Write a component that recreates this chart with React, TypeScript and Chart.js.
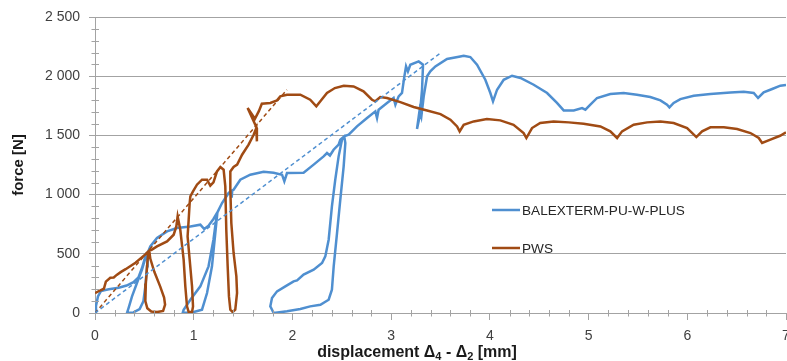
import React, { useEffect, useRef } from "react";
import { Chart, registerables } from "chart.js";

Chart.register(...registerables);

// ---- data ----
const seriesNames = ["BALEXTERM-PU-W-PLUS", "PWS"];

const balX = [
  0, 0.01, 0.03, 0.06, 0.14, 0.24, 0.32, 0.39, 0.44, 0.476, 0.51, 0.527,
  0.476, 0.425, 0.375, 0.34, 0.324,
  0.39, 0.452, 0.49, 0.51, 0.527, 0.533,
  0.56, 0.628, 0.73, 0.83, 0.966, 1.067, 1.107, 1.15, 1.2, 1.236,
  1.2, 1.15, 1.067, 0.966, 0.898, 0.89,
  0.93, 1.0, 1.084, 1.135, 1.185, 1.219, 1.24,
  1.287, 1.354, 1.38, 1.385, 1.39, 1.404, 1.472, 1.573, 1.708, 1.81, 1.895, 1.918, 1.945,
  2.113, 2.215, 2.316, 2.35, 2.38, 2.417, 2.468, 2.485, 2.525,
  2.536, 2.519, 2.485, 2.452, 2.418, 2.4, 2.367, 2.283, 2.18, 2.08, 1.945, 1.81, 1.776,
  1.793, 1.844, 1.928, 2.012, 2.047, 2.113, 2.215, 2.3, 2.333, 2.367, 2.4, 2.434, 2.468, 2.502, 2.53,
  2.57, 2.654, 2.756, 2.84, 2.857, 2.873, 2.958, 3.025, 3.043, 3.076, 3.11, 3.134, 3.151, 3.17,
  3.194, 3.279, 3.323, 3.313, 3.289, 3.262, 3.289, 3.306, 3.33, 3.364, 3.397, 3.448, 3.566,
  3.7, 3.735, 3.802, 3.87, 3.954, 4.005, 4.032, 4.073, 4.14, 4.225, 4.31, 4.444, 4.58, 4.68,
  4.748, 4.85, 4.934, 4.968, 5.018, 5.086, 5.22, 5.356, 5.49, 5.625, 5.728, 5.795, 5.819,
  5.862, 5.93, 6.065, 6.234, 6.437, 6.572, 6.673, 6.717, 6.774, 6.86, 6.943, 7.0,
];
const balY = [
  0, 60, 140, 185, 200, 213, 232, 260, 300, 380, 478, 512,
  366, 253, 140, 42, 0,
  5, 34, 98, 225, 394, 507,
  562, 633, 689, 718, 731, 746, 709, 737, 794, 845,
  619, 394, 225, 112, 28, 5,
  2, 8, 28, 169, 394, 676, 850,
  929, 1014, 1030, 975, 1035, 1041, 1126, 1168, 1192, 1185, 1168, 1112, 1182,
  1185, 1253, 1323, 1351, 1330, 1379, 1422, 1464, 1492,
  1436, 1238, 957, 676, 394, 197, 112, 70, 56, 34, 14, 0, 56,
  127, 183, 225, 267, 275, 324, 366, 422, 478, 619, 900, 1126, 1323, 1464, 1495,
  1506, 1576, 1647, 1703, 1647, 1717, 1774, 1816, 1759, 1830, 1858, 1999, 2083, 2041,
  2097, 2125, 2097, 1886, 1661, 1554, 1717, 1661, 1830, 1999, 2041, 2083, 2145,
  2167, 2173, 2162, 2097, 1970, 1858, 1788, 1886, 1970, 2004, 1985, 1928, 1858, 1774,
  1711, 1711, 1731, 1717, 1759, 1816, 1850, 1858, 1844, 1824, 1796, 1759, 1737,
  1774, 1807, 1835, 1850, 1863, 1869, 1858, 1816, 1863, 1892, 1920, 1926,
];

const pwsX = [
  0, 0.05, 0.09, 0.11, 0.155, 0.19, 0.22, 0.26, 0.31, 0.41, 0.51, 0.54,
  0.53, 0.515, 0.51, 0.53, 0.57, 0.63, 0.69, 0.71, 0.7, 0.66, 0.6, 0.56, 0.55,
  0.577, 0.628, 0.73, 0.797, 0.824, 0.837,
  0.864, 0.898, 0.915, 0.932, 0.949, 0.983, 0.993, 0.983, 0.959, 0.938, 0.949, 0.959, 0.966,
  0.993, 1.033, 1.084, 1.135, 1.168, 1.2, 1.236, 1.27,
  1.303, 1.32, 1.33, 1.344, 1.357, 1.371, 1.394, 1.421, 1.439, 1.432, 1.404, 1.381, 1.371, 1.371, 1.404,
  1.44, 1.49, 1.556, 1.607, 1.634, 1.64, 1.64, 1.546, 1.62, 1.66, 1.69, 1.776, 1.844, 1.877, 1.945,
  2.08, 2.18, 2.242, 2.283, 2.35, 2.43, 2.52, 2.62, 2.72, 2.806, 2.84, 2.89, 2.958,
  3.093, 3.228, 3.364, 3.5, 3.6, 3.668, 3.694, 3.735, 3.836, 3.97, 4.106, 4.24, 4.342, 4.37,
  4.427, 4.51, 4.646, 4.8, 4.95, 5.12, 5.22, 5.289, 5.339, 5.457, 5.593, 5.728, 5.862, 5.998,
  6.092, 6.15, 6.234, 6.37, 6.505, 6.64, 6.724, 6.758, 6.842, 6.94, 7.0,
];
const pwsY = [
  168, 190, 205, 265, 298, 300, 322, 345, 370, 425, 495, 520,
  420, 250, 100, 40, 12, 8, 18, 70, 130, 225, 350, 460, 525,
  535, 562, 605, 661, 731, 815,
  703, 450, 225, 56, 8, 8, 56, 225, 450, 647, 788, 929, 985,
  1027, 1084, 1126, 1126, 1075, 1103, 1196, 1233,
  1210, 1069, 703, 394, 140, 28, 8, 28, 169, 309, 507, 760, 1041, 1196, 1233,
  1253, 1337, 1422, 1506, 1562, 1450, 1560, 1731, 1640, 1705, 1768, 1774, 1796, 1830, 1844,
  1844, 1801, 1745, 1788, 1858, 1900, 1920, 1914, 1872, 1801, 1788, 1824, 1816,
  1781, 1740, 1710, 1680, 1633, 1576, 1534, 1590, 1618, 1638, 1627, 1590, 1520, 1478,
  1562, 1605, 1618, 1610, 1599, 1576, 1534, 1478, 1534, 1590, 1610, 1618, 1605, 1562,
  1486, 1534, 1568, 1568, 1554, 1520, 1478, 1436, 1464, 1497, 1525,
];

const balTrendX = [0, 3.5];
const balTrendY = [0, 2196];
const pwsTrendX = [0, 1.945];
const pwsTrendY = [0, 1886];

const xTicks = [0, 1, 2, 3, 4, 5, 6, 7];
const yTicks = [0, 500, 1000, 1500, 2000, 2500];

const BLUE = "#4f8fd0";
const BROWN = "#a04b14";
const GRID = "#a3a3a3";
const TEXT = "#404040";
const FONT = "'Liberation Sans', Arial, sans-serif";

const toPts = (xs: number[], ys: number[]) => xs.map((x, i) => ({ x, y: ys[i] }));
const fmt = (v: number) =>
  v >= 1000 ? `${Math.floor(v / 1000)} ${String(v % 1000).padStart(3, "0")}` : String(v);

const decor = {
  id: "decor",
  afterDraw(chart: any) {
    const { ctx, chartArea, scales } = chart;
    const xs = scales.x;
    const ys = scales.y;
    ctx.save();
    ctx.strokeStyle = GRID;
    ctx.lineWidth = 1;
    // minor y ticks
    for (let v = 100; v < 2500; v += 100) {
      if (v % 500 === 0) continue;
      const y = Math.round(ys.getPixelForValue(v)) + 0.5;
      ctx.beginPath();
      ctx.moveTo(chartArea.left - 3.5, y);
      ctx.lineTo(chartArea.left + 4, y);
      ctx.stroke();
    }
    // minor x ticks
    for (let i = 1; i < 35; i++) {
      if (i % 5 === 0) continue;
      const x = Math.round(xs.getPixelForValue(i * 0.2)) + 0.5;
      ctx.beginPath();
      ctx.moveTo(x, chartArea.bottom - 3);
      ctx.lineTo(x, chartArea.bottom + 3.5);
      ctx.stroke();
    }
    // legend
    const ds = chart.data.datasets;
    const legY = [210, 248];
    ctx.font = `13.6px ${FONT}`;
    ctx.textBaseline = "middle";
    ctx.textAlign = "left";
    for (let i = 0; i < 2; i++) {
      ctx.strokeStyle = ds[i].borderColor;
      ctx.lineWidth = 2.5;
      ctx.beginPath();
      ctx.moveTo(492, legY[i]);
      ctx.lineTo(520, legY[i]);
      ctx.stroke();
      ctx.fillStyle = "#262626";
      ctx.fillText(ds[i].label, 522, legY[i] + 1);
    }
    // x axis title with subscripts
    const parts: [string, boolean][] = [
      ["displacement \u0394", false],
      ["4", true],
      [" - \u0394", false],
      ["2", true],
      [" [mm]", false],
    ];
    const big = `bold 16px ${FONT}`;
    const small = `bold 11px ${FONT}`;
    let total = 0;
    for (const [t, s] of parts) {
      ctx.font = s ? small : big;
      total += ctx.measureText(t).width;
    }
    let cx = 417 - total / 2;
    const base = 357;
    ctx.fillStyle = "#1a1a1a";
    ctx.textBaseline = "alphabetic";
    for (const [t, s] of parts) {
      ctx.font = s ? small : big;
      ctx.fillText(t, cx, s ? base + 3 : base);
      cx += ctx.measureText(t).width;
    }
    ctx.restore();
  },
};

export default function App() {
  const ref = useRef<HTMLCanvasElement>(null);
  useEffect(() => {
    document.body.style.margin = "0";
    Chart.defaults.font.family = FONT;
    const chart = new Chart(ref.current as HTMLCanvasElement, {
      type: "scatter",
      data: {
        datasets: [
          {
            label: seriesNames[0],
            data: toPts(balX, balY),
            showLine: true,
            borderColor: BLUE,
            backgroundColor: BLUE,
            borderWidth: 2.5,
            pointRadius: 0,
            order: 2,
          },
          {
            label: seriesNames[1],
            data: toPts(pwsX, pwsY),
            showLine: true,
            borderColor: BROWN,
            backgroundColor: BROWN,
            borderWidth: 2.5,
            pointRadius: 0,
            order: 1,
          },
          {
            label: seriesNames[0] + " trend",
            data: toPts(balTrendX, balTrendY),
            showLine: true,
            borderColor: BLUE,
            borderWidth: 1.5,
            borderDash: [4, 3],
            pointRadius: 0,
            order: 0,
          },
          {
            label: seriesNames[1] + " trend",
            data: toPts(pwsTrendX, pwsTrendY),
            showLine: true,
            borderColor: BROWN,
            borderWidth: 1.5,
            borderDash: [4, 3],
            pointRadius: 0,
            order: 0,
          },
        ],
      } as any,
      options: {
        responsive: false,
        animation: false,
        events: [],
        layout: { padding: { top: 17, right: 1, left: 0, bottom: 0 } },
        plugins: { legend: { display: false }, tooltip: { enabled: false } },
        scales: {
          x: {
            type: "linear",
            min: xTicks[0],
            max: xTicks[xTicks.length - 1],
            afterBuildTicks: (s: any) => {
              s.ticks = xTicks.map((v) => ({ value: v }));
            },
            ticks: {
              color: TEXT,
              font: { size: 14 },
              padding: 8,
              maxRotation: 0,
              autoSkip: false,
            },
            grid: {
              display: true,
              drawOnChartArea: false,
              drawTicks: true,
              tickLength: 7,
              color: GRID,
            },
            border: { display: true, color: GRID },
            afterFit: (s: any) => {
              s.height = 48;
              s.paddingLeft = 0;
              s.paddingRight = 0;
            },
          },
          y: {
            type: "linear",
            min: yTicks[0],
            max: yTicks[yTicks.length - 1],
            afterBuildTicks: (s: any) => {
              s.ticks = yTicks.map((v) => ({ value: v }));
            },
            ticks: {
              color: TEXT,
              font: { size: 14 },
              padding: 9,
              callback: (v: any) => fmt(Number(v)),
            },
            grid: { color: GRID, tickLength: 6, drawTicks: true },
            border: { display: true, color: GRID },
            title: {
              display: true,
              text: "force [N]",
              color: "#1a1a1a",
              font: { size: 15, weight: "bold" },
              padding: { top: 10, bottom: 0 },
            },
            afterFit: (s: any) => {
              s.width = 95;
              s.paddingTop = 0;
              s.paddingBottom = 0;
            },
          },
        },
      } as any,
      plugins: [decor],
    });
    return () => chart.destroy();
  }, []);
  return (
    <div style={{ position: "absolute", left: 0, top: 0, width: 787, height: 361 }}>
      <canvas ref={ref} width={787} height={361} />
    </div>
  );
}
